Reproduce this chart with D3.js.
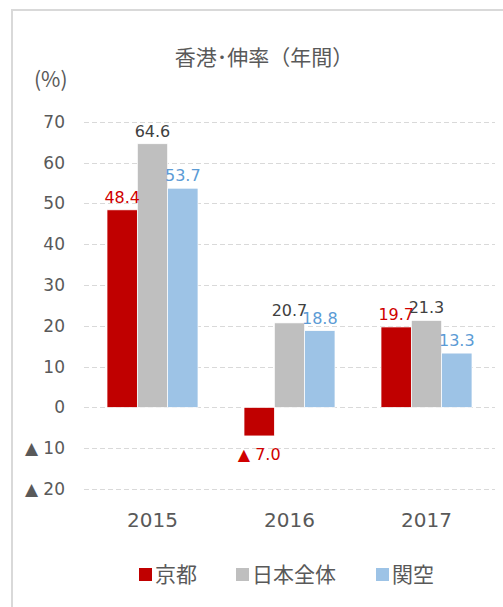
<!DOCTYPE html>
<html>
<head>
<meta charset="utf-8">
<script src="https://cdn.jsdelivr.net/npm/d3@7"></script>
<style>
  body { margin: 0; background: #fff; }
  text { font-family: "DejaVu Sans", "Noto Sans CJK JP", sans-serif; }
</style>
</head>
<body>
<svg width="503" height="607"></svg>
<script>
const years = ["2015", "2016", "2017"];
const seriesNames = ["京都", "日本全体", "関空"];
const kyoto = [48.4, -7.0, 19.7];
const japan = [64.6, 20.7, 21.3];
const kansai = [53.7, 18.8, 13.3];
const yTicks = [-20, -10, 0, 10, 20, 30, 40, 50, 60, 70];

const fills = ["#C00000", "#BFBFBF", "#9DC3E6"];
const labelColors = ["#D00000", "#404040", "#5B9BD5"];
const textColor = "#595959";
const cjk = '"Noto Sans CJK JP", sans-serif';

const svg = d3.select("svg");

// outer frame
svg.append("rect")
  .attr("x", 12).attr("y", 10)
  .attr("width", 600).attr("height", 700)
  .attr("fill", "none")
  .attr("stroke", "#D9D9D9")
  .attr("stroke-width", 2);

const x0 = d3.scaleBand().domain(years).range([84, 495])
  .paddingInner(0.336).paddingOuter(0.168);
const x1 = d3.scaleBand().domain(d3.range(3)).range([0, x0.bandwidth()]);
const y = d3.scaleLinear().domain([-20, 70]).range([489, 121.7]);

// gridlines
svg.append("g").selectAll("line")
  .data(yTicks)
  .enter()
  .append("line")
  .attr("x1", 84).attr("x2", 495)
  .attr("y1", (d) => Math.round(y(d)) + 0.5)
  .attr("y2", (d) => Math.round(y(d)) + 0.5)
  .attr("stroke", "#D9D9D9")
  .attr("stroke-width", 1)
  .attr("stroke-dasharray", "5,3");

// y tick labels
svg.append("g").selectAll("text")
  .data(yTicks)
  .enter()
  .append("text")
  .attr("x", 65)
  .attr("y", (d) => y(d) + 6)
  .attr("text-anchor", "end")
  .attr("font-size", 17)
  .attr("fill", textColor)
  .text((d) => (d < 0 ? "▲ " + Math.abs(d) : d));

// bars
const seriesData = [kyoto, japan, kansai];
const groups = svg.append("g").selectAll("g")
  .data(years)
  .enter()
  .append("g")
  .attr("transform", (d) => `translate(${x0(d)},0)`);

groups.selectAll("rect")
  .data((d, i) => seriesData.map((s, k) => ({ k: k, v: s[i] })))
  .enter()
  .append("rect")
  .attr("x", (d) => x1(d.k))
  .attr("width", x1.bandwidth())
  .attr("y", (d) => y(Math.max(0, d.v)))
  .attr("height", (d) => Math.abs(y(d.v) - y(0)))
  .attr("fill", (d) => fills[d.k])
  .attr("stroke", "#fff")
  .attr("stroke-width", 0.7);

groups.selectAll("text")
  .data((d, i) => seriesData.map((s, k) => ({ k: k, v: s[i] })))
  .enter()
  .append("text")
  .attr("x", (d) => x1(d.k) + x1.bandwidth() / 2)
  .attr("y", (d) => (d.v >= 0 ? y(d.v) - 7 : y(d.v) + 24))
  .attr("text-anchor", "middle")
  .attr("font-size", 16)
  .attr("fill", (d) => labelColors[d.k])
  .text((d) => (d.v < 0 ? "▲ " + Math.abs(d.v).toFixed(1) : d.v.toFixed(1)));

// x labels
svg.append("g").selectAll("text")
  .data(years)
  .enter()
  .append("text")
  .attr("x", (d) => x0(d) + x0.bandwidth() / 2)
  .attr("y", 527)
  .attr("text-anchor", "middle")
  .attr("font-size", 20)
  .attr("fill", textColor)
  .text((d) => d);

// title and unit
svg.append("text")
  .attr("x", 264).attr("y", 65)
  .attr("text-anchor", "middle")
  .attr("font-size", 21)
  .style("font-family", cjk)
  .attr("fill", textColor)
  .text("香港･伸率（年間）");

svg.append("text")
  .attr("x", 34).attr("y", 87)
  .attr("font-size", 21)
  .style("font-family", cjk)
  .attr("fill", textColor)
  .text("(%)");

// legend
const legendX = [139, 236, 376];
const legend = svg.append("g").selectAll("g")
  .data(seriesNames)
  .enter()
  .append("g")
  .attr("transform", (d, i) => `translate(${legendX[i]},568)`);

legend.append("rect")
  .attr("width", 13).attr("height", 13)
  .attr("fill", (d, i) => fills[i]);

legend.append("text")
  .attr("x", 16).attr("y", 14)
  .attr("font-size", 21)
  .style("font-family", cjk)
  .attr("fill", textColor)
  .text((d) => d);
</script>
</body>
</html>
